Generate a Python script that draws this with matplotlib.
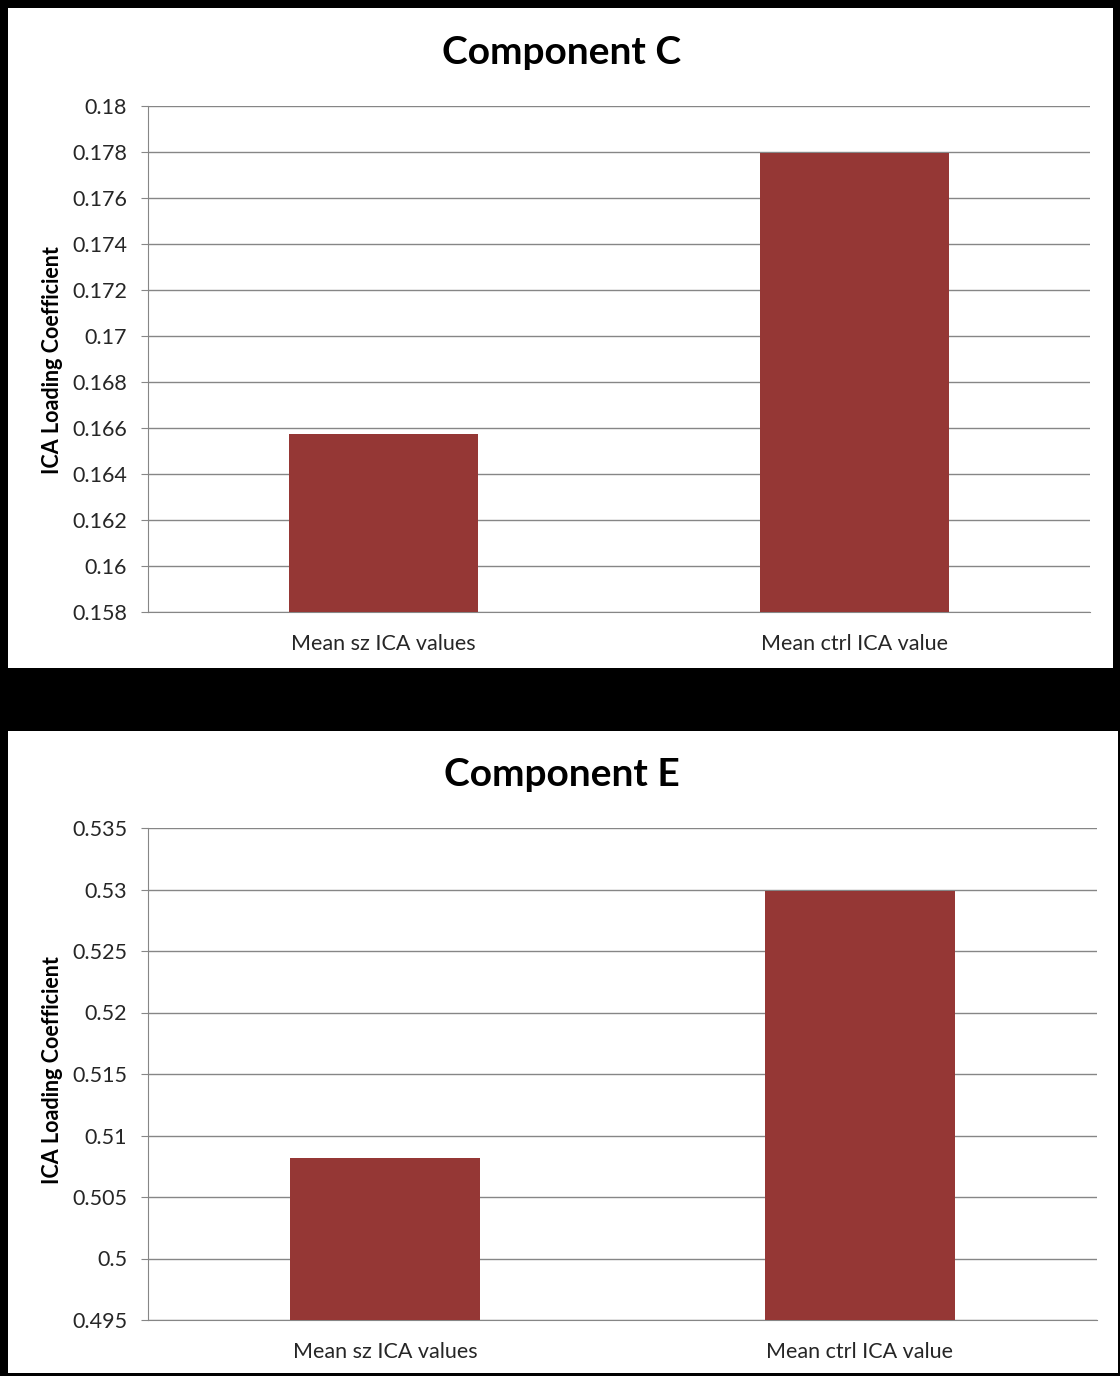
import matplotlib
matplotlib.use("Agg")
import matplotlib.pyplot as plt
from matplotlib.patches import Rectangle
from matplotlib.ticker import FuncFormatter, MultipleLocator

plt.rcParams['font.family'] = ['Lato', 'DejaVu Sans']

categories = ["Mean sz ICA values", "Mean ctrl ICA value"]
values_c = [0.16575, 0.17795]
values_e = [0.50818, 0.52985]
titles = ["Component C", "Component E"]

BAR = "#953735"
GRID = "#868686"

W, H = 1120, 1376
fig = plt.figure(figsize=(W / 100, H / 100), dpi=100)
fig.patch.set_facecolor("black")


def px(x0, y0, x1, y1):
    # pixel box -> figure fraction [left, bottom, width, height]
    return [x0 / W, 1 - y1 / H, (x1 - x0) / W, (y1 - y0) / H]


# white panels
for box in [(8, 8, 1113, 668), (8, 731, 1118, 1373)]:
    l, b, w, h = px(*box)
    fig.add_artist(Rectangle((l, b), w, h, transform=fig.transFigure,
                             facecolor="white", edgecolor="none", zorder=0))


def fmt(v, pos):
    return ("%.3f" % v).rstrip("0").rstrip(".")


def draw(ax, vals, title, lo, hi, step, title_y, label_y):
    ax.bar(range(len(categories)), vals, width=0.4, color=BAR, zorder=3)
    ax.set_xlim(-0.5, len(categories) - 0.5)
    ax.set_ylim(lo, hi)
    ax.yaxis.set_major_locator(MultipleLocator(step))
    ax.yaxis.set_major_formatter(FuncFormatter(fmt))
    ax.set_xticks(range(len(categories)))
    ax.set_xticklabels(categories)
    ax.grid(axis="y", color=GRID, linewidth=1, zorder=0)
    ax.set_axisbelow(True)
    for s in ["top", "right"]:
        ax.spines[s].set_visible(False)
    for s in ["left", "bottom"]:
        ax.spines[s].set_color(GRID)
    ax.tick_params(axis="x", length=0, labelsize=15.5, pad=16, colors="#262626")
    ax.tick_params(axis="y", length=5, color=GRID, labelsize=15.5, pad=10, labelcolor="#262626")
    fig.text(562 / W, 1 - title_y / H, title, ha="center", va="center",
             fontsize=28, fontweight="bold", color="black")
    fig.text(53 / W, 1 - label_y / H, "ICA Loading Coefficient", rotation=90,
             ha="center", va="center", fontsize=15.5, fontweight="bold", color="black")


ax1 = fig.add_axes(px(148, 106, 1090, 612))
draw(ax1, values_c, titles[0], 0.158, 0.18, 0.002, 53, 360)

ax2 = fig.add_axes(px(148, 828, 1097, 1320))
draw(ax2, values_e, titles[1], 0.495, 0.535, 0.005, 775, 1070)

fig.savefig("out.png", dpi=100, facecolor=fig.get_facecolor())
